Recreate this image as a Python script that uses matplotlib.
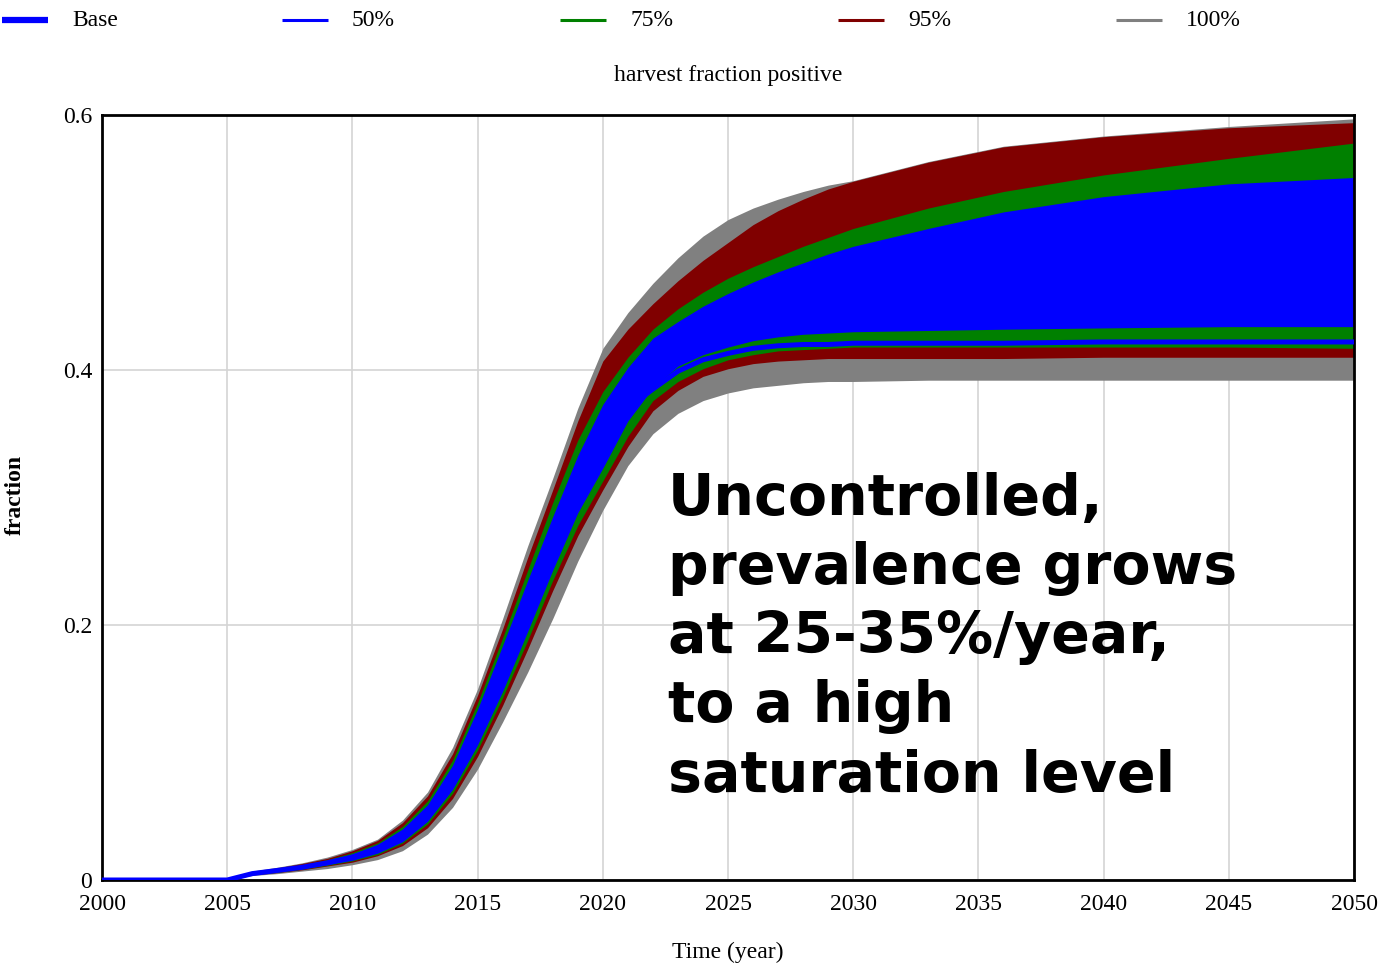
import matplotlib
matplotlib.use("Agg")
import matplotlib.pyplot as plt
from matplotlib.lines import Line2D

# ---------------- data ----------------
years = [2000, 2005, 2006, 2007, 2008, 2009, 2010, 2011, 2012, 2013, 2014,
         2015, 2016, 2017, 2018, 2019, 2020, 2021, 2022, 2023, 2024, 2025,
         2026, 2027, 2028, 2029, 2030, 2033, 2036, 2040, 2045, 2050]

p100_top = [0, 0, 0.007, 0.010, 0.0135, 0.018, 0.024, 0.032, 0.047, 0.069, 0.104,
            0.150, 0.205, 0.262, 0.315, 0.370, 0.417, 0.445, 0.468, 0.488, 0.505, 0.518,
            0.527, 0.534, 0.540, 0.545, 0.5485, 0.5635, 0.5755, 0.5835, 0.591, 0.597]
p95_top = [0, 0, 0.0065, 0.0095, 0.013, 0.017, 0.023, 0.031, 0.045, 0.066, 0.099,
           0.145, 0.197, 0.253, 0.306, 0.360, 0.407, 0.432, 0.452, 0.470, 0.486, 0.500,
           0.514, 0.525, 0.534, 0.542, 0.548, 0.563, 0.575, 0.583, 0.590, 0.594]
p75_top = [0, 0, 0.006, 0.009, 0.012, 0.016, 0.0215, 0.029, 0.042, 0.062, 0.094,
           0.139, 0.190, 0.243, 0.296, 0.345, 0.383, 0.410, 0.432, 0.448, 0.461, 0.472,
           0.481, 0.489, 0.497, 0.504, 0.511, 0.527, 0.540, 0.553, 0.566, 0.578]
p50_top = [0, 0, 0.0058, 0.0085, 0.0115, 0.0155, 0.0205, 0.028, 0.040, 0.059, 0.090,
           0.134, 0.184, 0.235, 0.285, 0.333, 0.373, 0.402, 0.425, 0.438, 0.450, 0.460,
           0.469, 0.477, 0.484, 0.491, 0.497, 0.511, 0.524, 0.536, 0.546, 0.551]
p50_bot = [0, 0, 0.0045, 0.0065, 0.009, 0.012, 0.0155, 0.021, 0.030, 0.046, 0.071,
           0.106, 0.148, 0.195, 0.243, 0.288, 0.323, 0.360, 0.386, 0.403, 0.412, 0.418,
           0.423, 0.426, 0.428, 0.429, 0.430, 0.431, 0.432, 0.433, 0.434, 0.434]
p75_bot = [0, 0, 0.0042, 0.006, 0.0085, 0.0115, 0.015, 0.020, 0.029, 0.044, 0.068,
           0.102, 0.143, 0.188, 0.235, 0.278, 0.313, 0.348, 0.376, 0.391, 0.401, 0.408,
           0.412, 0.415, 0.416, 0.417, 0.418, 0.418, 0.418, 0.418, 0.418, 0.417]
p95_bot = [0, 0, 0.004, 0.0058, 0.008, 0.011, 0.014, 0.019, 0.027, 0.041, 0.064,
           0.097, 0.137, 0.181, 0.227, 0.270, 0.306, 0.340, 0.368, 0.384, 0.395, 0.401,
           0.405, 0.407, 0.408, 0.409, 0.409, 0.409, 0.409, 0.410, 0.410, 0.410]
p100_bot = [0, 0, 0.0035, 0.005, 0.007, 0.009, 0.012, 0.016, 0.023, 0.036, 0.057,
            0.087, 0.124, 0.163, 0.205, 0.250, 0.290, 0.325, 0.350, 0.366, 0.376, 0.382,
            0.386, 0.388, 0.390, 0.391, 0.391, 0.392, 0.392, 0.392, 0.392, 0.392]
base = [0, 0, 0.005, 0.0075, 0.010, 0.0135, 0.018, 0.0245, 0.035, 0.052, 0.080,
        0.120, 0.165, 0.215, 0.264, 0.310, 0.345, 0.370, 0.385, 0.399, 0.408, 0.413,
        0.417, 0.419, 0.420, 0.420, 0.421, 0.421, 0.421, 0.422, 0.422, 0.422]

legend_labels = ["Base", "50%", "75%", "95%", "100%"]
x_ticks = [2000, 2005, 2010, 2015, 2020, 2025, 2030, 2035, 2040, 2045, 2050]
y_ticks = [0, 0.2, 0.4, 0.6]
y_tick_labels = ["0", "0.2", "0.4", "0.6"]
title = "harvest fraction positive"
x_label = "Time (year)"
y_label = "fraction"
note_lines = ["Uncontrolled,", "prevalence grows", "at 25-35%/year,",
              "to a high", "saturation level"]

# ---------------- styling ----------------
C_BLUE, C_GREEN, C_RED, C_GRAY = "#0000ff", "#008000", "#800000", "#808080"
SERIF = "Liberation Serif"

W, H = 1380, 966
fig = plt.figure(figsize=(W / 100, H / 100), dpi=100)
ax = fig.add_axes([102 / W, 1 - 880 / H, (1354 - 102) / W, (880 - 115) / H])

ax.fill_between(years, p100_bot, p100_top, color=C_GRAY, lw=0, zorder=2)
ax.fill_between(years, p95_bot, p95_top, color=C_RED, lw=0, zorder=2.1)
ax.fill_between(years, p75_bot, p75_top, color=C_GREEN, lw=0, zorder=2.2)
ax.fill_between(years, p50_bot, p50_top, color=C_BLUE, lw=0, zorder=2.3)
ax.plot(years, base, color=C_BLUE, lw=3.6, zorder=3, solid_capstyle="butt")

ax.set_xlim(2000, 2050)
ax.set_ylim(0, 0.6)
ax.set_xticks(x_ticks)
ax.set_xticklabels([str(t) for t in x_ticks], fontfamily=SERIF, fontsize=17)
ax.set_yticks(y_ticks)
ax.set_yticklabels(y_tick_labels, fontfamily=SERIF, fontsize=17)
ax.tick_params(axis="x", length=0, pad=10)
ax.tick_params(axis="y", length=0, pad=7)
ax.grid(True, color="#d4d4d4", lw=1.2, zorder=0)
ax.set_axisbelow(True)
for s in ax.spines.values():
    s.set_linewidth(2)
    s.set_color("black")
    s.set_zorder(2.5)

fig.text(728 / W, 1 - 76 / H, title, ha="center", va="center",
         fontfamily=SERIF, fontsize=17)
fig.text(728 / W, 1 - 952 / H, x_label, ha="center", va="center",
         fontfamily=SERIF, fontsize=17)
fig.text(15 / W, 1 - 495 / H, y_label, ha="center", va="center", rotation=90,
         fontfamily=SERIF, fontsize=17, fontweight="bold")

# legend across the top
leg_colors = [C_BLUE, C_BLUE, C_GREEN, C_RED, C_GRAY]
leg_widths = [4.5, 2.2, 2.2, 2.2, 2.2]
leg_line_x = [2, 282, 560, 838, 1116]
for lab, col, lw_, x0 in zip(legend_labels, leg_colors, leg_widths, leg_line_x):
    fig.add_artist(Line2D([x0 / W, (x0 + 46) / W], [1 - 20 / H, 1 - 20 / H],
                          color=col, lw=lw_, transform=fig.transFigure,
                          solid_capstyle="butt"))
    fig.text((x0 + 70) / W, 1 - 21 / H, lab, ha="left", va="center",
             fontfamily=SERIF, fontsize=17)

# annotation
baselines = [515, 584, 653, 722, 792]
for line, yb in zip(note_lines, baselines):
    fig.text(668 / W, 1 - yb / H, line, ha="left", va="baseline",
             fontfamily="DejaVu Sans", fontweight="bold", fontsize=41,
             color="black")

fig.savefig("out.png", dpi=100)
